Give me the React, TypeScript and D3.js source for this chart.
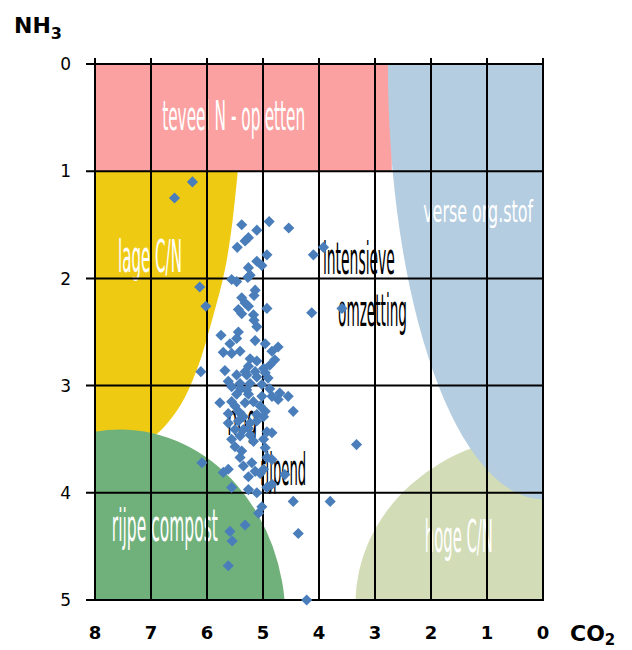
import React, { useEffect, useRef } from 'react';
import * as d3 from 'd3';

const xTicks = [8, 7, 6, 5, 4, 3, 2, 1, 0];
const yTicks = [0, 1, 2, 3, 4, 5];

// compost samples: [CO2, NH3]
const samples: [number, number][] = [
  [6.26, 1.10], [6.58, 1.25], [5.38, 1.50], [4.89, 1.47], [4.54, 1.53], [5.11, 1.55],
  [5.26, 1.62], [5.32, 1.65], [5.46, 1.71], [4.93, 1.78], [4.10, 1.78], [3.92, 1.71],
  [5.11, 1.84], [5.02, 1.88], [5.26, 1.90], [5.23, 1.97], [5.56, 2.01], [5.47, 2.03],
  [5.27, 1.99], [6.13, 2.08], [5.14, 2.11], [5.16, 2.16], [5.38, 2.18], [5.32, 2.23],
  [5.26, 2.26], [6.02, 2.26], [4.93, 2.28], [5.44, 2.29], [5.38, 2.33], [5.17, 2.34],
  [4.13, 2.32], [3.59, 2.28], [5.16, 2.39], [5.11, 2.45], [5.75, 2.53], [5.44, 2.50],
  [5.47, 2.56], [5.59, 2.61], [5.14, 2.58], [4.96, 2.61], [4.73, 2.64], [5.71, 2.69],
  [5.56, 2.70], [5.41, 2.68], [4.84, 2.68], [5.23, 2.75], [4.79, 2.76], [5.11, 2.77],
  [5.26, 2.82], [4.99, 2.84], [4.88, 2.81], [6.11, 2.87], [5.32, 2.87], [5.14, 2.87],
  [5.68, 2.86], [5.47, 2.90], [5.29, 2.90], [5.11, 2.92], [4.96, 2.88], [4.91, 2.93],
  [5.62, 2.96], [5.41, 2.98], [5.23, 2.98], [5.02, 2.99], [5.56, 3.01], [5.40, 3.03],
  [5.29, 3.04], [4.88, 3.03], [4.70, 3.07], [4.55, 3.10], [5.02, 3.10], [5.47, 3.08],
  [5.26, 3.08], [4.84, 3.10], [4.73, 3.13], [4.46, 3.24], [5.77, 3.16], [5.56, 3.15],
  [5.50, 3.19], [5.32, 3.16], [5.17, 3.15], [5.05, 3.19], [4.96, 3.24], [5.62, 3.26],
  [5.44, 3.24], [5.35, 3.29], [5.11, 3.27], [4.99, 3.29], [5.62, 3.35], [5.44, 3.33],
  [5.23, 3.35], [5.11, 3.33], [5.50, 3.41], [5.35, 3.41], [5.26, 3.40], [4.93, 3.43],
  [4.84, 3.44], [5.56, 3.50], [5.41, 3.47], [5.23, 3.46], [5.17, 3.52], [4.99, 3.50],
  [5.50, 3.57], [5.38, 3.61], [4.96, 3.58], [3.33, 3.55], [5.41, 3.67], [5.20, 3.72],
  [5.35, 3.75], [6.09, 3.72], [4.93, 3.67], [4.84, 3.69], [5.62, 3.78], [5.71, 3.81],
  [5.26, 3.85], [5.14, 3.80], [4.61, 3.83], [4.99, 3.78], [5.05, 3.82], [5.56, 3.95],
  [5.26, 3.97], [5.11, 4.00], [4.93, 3.95], [4.84, 3.92], [5.02, 4.13], [5.08, 4.19],
  [4.46, 4.08], [3.80, 4.08], [5.32, 4.30], [5.59, 4.36], [5.55, 4.45], [4.37, 4.38],
  [5.62, 4.68], [4.22, 5.00],
];

// zones in chart units
const pinkZone = { x0: 8, x1: 2.7, y0: 0, y1: 1 };
const yellowEdge: [number, number][] = [
  [5.45, 1.0], [5.54, 1.45], [5.68, 1.92], [5.91, 2.39], [6.18, 2.85],
  [6.52, 3.22], [7.02, 3.5], [8, 3.69],
];
const blueZone = { cx: 0, cy: 0, rx: 2.77, ry: 4.06 };
const greenZone = { cx: 7.55, cy: 5.18, rx: 2.95, ry: 1.77 };
const paleZone = { cx: -0.04, cy: 5.04, rx: 3.39, ry: 1.58 };

const zoneLabels = [
  { text: 'teveel N - opletten', co2: 6.8, nh3: 0.615, size: 41, width: 143, fill: '#fff' },
  { text: 'verse org.stof', co2: 2.14, nh3: 1.47, size: 30, width: 110, fill: '#fff' },
  { text: 'lage C/N', co2: 7.59, nh3: 1.94, size: 44, width: 64, fill: '#fff' },
  { text: 'intensieve', co2: 3.93, nh3: 1.96, size: 44, width: 72, fill: '#000' },
  { text: 'omzetting', co2: 3.66, nh3: 2.44, size: 44, width: 69, fill: '#000' },
  { text: 'nog', co2: 5.64, nh3: 3.46, size: 44, width: 30, fill: '#000' },
  { text: 'rijpend', co2: 5.05, nh3: 3.93, size: 44, width: 46, fill: '#000' },
  { text: 'rijpe compost', co2: 7.7, nh3: 4.45, size: 44, width: 106, fill: '#fff' },
  { text: 'hoge C/N', co2: 2.11, nh3: 4.55, size: 44, width: 68, fill: '#fff' },
];

const W = 632;
const H = 650;

export default function App() {
  const ref = useRef<SVGSVGElement | null>(null);

  useEffect(() => {
    const svg = d3.select(ref.current);
    svg.selectAll('*').remove();

    const x = d3.scaleLinear().domain([8, 0]).range([95, 543]);
    const y = d3.scaleLinear().domain([0, 5]).range([64, 600]);
    const kx = x(0) - x(1);
    const ky = y(1) - y(0);

    svg.append('defs').append('clipPath').attr('id', 'plot')
      .append('rect')
      .attr('x', x(8)).attr('y', y(0))
      .attr('width', x(0) - x(8)).attr('height', y(5) - y(0));

    const zones = svg.append('g').attr('clip-path', 'url(#plot)');

    zones.append('rect')
      .attr('x', x(pinkZone.x0)).attr('y', y(pinkZone.y0))
      .attr('width', x(pinkZone.x1) - x(pinkZone.x0))
      .attr('height', y(pinkZone.y1) - y(pinkZone.y0))
      .attr('fill', '#fba1a1');

    const edgeLine = d3.line<[number, number]>()
      .x(d => x(d[0])).y(d => y(d[1]))
      .curve(d3.curveCatmullRom);
    zones.append('path')
      .attr('d', edgeLine(yellowEdge) + `L${x(8) - 5},${y(3.69)}L${x(8) - 5},${y(1)}Z`)
      .attr('fill', '#efca13');

    zones.append('ellipse')
      .attr('cx', x(paleZone.cx)).attr('cy', y(paleZone.cy))
      .attr('rx', paleZone.rx * kx).attr('ry', paleZone.ry * ky)
      .attr('fill', '#d2dcb6');

    zones.append('ellipse')
      .attr('cx', x(blueZone.cx)).attr('cy', y(blueZone.cy))
      .attr('rx', blueZone.rx * kx).attr('ry', blueZone.ry * ky)
      .attr('fill', '#b4cde0');

    zones.append('ellipse')
      .attr('cx', x(greenZone.cx)).attr('cy', y(greenZone.cy))
      .attr('rx', greenZone.rx * kx).attr('ry', greenZone.ry * ky)
      .attr('fill', '#70b07b');

    // zone labels (under the grid)
    svg.append('g').selectAll('text')
      .data(zoneLabels)
      .enter().append('text')
      .attr('x', d => x(d.co2))
      .attr('y', d => y(d.nh3))
      .attr('font-family', "'Liberation Sans Narrow', 'DejaVu Sans Condensed', Arial, sans-serif")
      .attr('font-size', d => d.size)
      .attr('textLength', d => d.width)
      .attr('lengthAdjust', 'spacingAndGlyphs')
      .attr('fill', d => d.fill)
      .text(d => d.text);

    // grid
    const grid = svg.append('g').attr('stroke', '#000').attr('stroke-width', 2);
    grid.selectAll('line.v')
      .data(xTicks)
      .enter().append('line')
      .attr('class', 'v')
      .attr('x1', d => x(d)).attr('x2', d => x(d))
      .attr('y1', y(0) - 6).attr('y2', y(5) + 1);
    grid.selectAll('line.h')
      .data(yTicks)
      .enter().append('line')
      .attr('class', 'h')
      .attr('x1', x(8) - 9).attr('x2', x(0) + 1)
      .attr('y1', d => y(d)).attr('y2', d => y(d));

    // samples
    const diamond = d3.symbol().type(d3.symbolSquare).size(62)();
    svg.append('g').selectAll('path')
      .data(samples)
      .enter().append('path')
      .attr('d', diamond)
      .attr('transform', d => `translate(${x(d[0])},${y(d[1])}) rotate(45)`)
      .attr('fill', '#4a7ebb');

    // tick labels
    svg.append('g').selectAll('text')
      .data(yTicks)
      .enter().append('text')
      .attr('x', 71)
      .attr('y', d => y(d))
      .attr('dy', '0.36em')
      .attr('text-anchor', 'end')
      .attr('font-family', "'DejaVu Sans', Verdana, sans-serif")
      .attr('font-size', 17)
      .text(d => d);

    svg.append('g').selectAll('text')
      .data(xTicks)
      .enter().append('text')
      .attr('x', d => x(d))
      .attr('y', 639)
      .attr('text-anchor', 'middle')
      .attr('font-family', "'DejaVu Sans', Verdana, sans-serif")
      .attr('font-weight', 'bold')
      .attr('font-size', 18)
      .text(d => d);

    // axis titles
    const nh3 = svg.append('text')
      .attr('x', 14).attr('y', 33)
      .attr('font-family', "'DejaVu Sans', Verdana, sans-serif")
      .attr('font-weight', 'bold')
      .attr('font-size', 22);
    nh3.append('tspan').text('NH');
    nh3.append('tspan').attr('font-size', 16).attr('dy', 6).text('3');

    const co2 = svg.append('text')
      .attr('x', 570).attr('y', 641)
      .attr('font-family', "'DejaVu Sans', Verdana, sans-serif")
      .attr('font-weight', 'bold')
      .attr('font-size', 22);
    co2.append('tspan').text('CO');
    co2.append('tspan').attr('font-size', 15).attr('dy', 4).text('2');
  }, []);

  return (
    <svg
      ref={ref}
      width={W}
      height={H}
      style={{ position: 'absolute', left: 0, top: 0, background: '#fff' }}
    />
  );
}
